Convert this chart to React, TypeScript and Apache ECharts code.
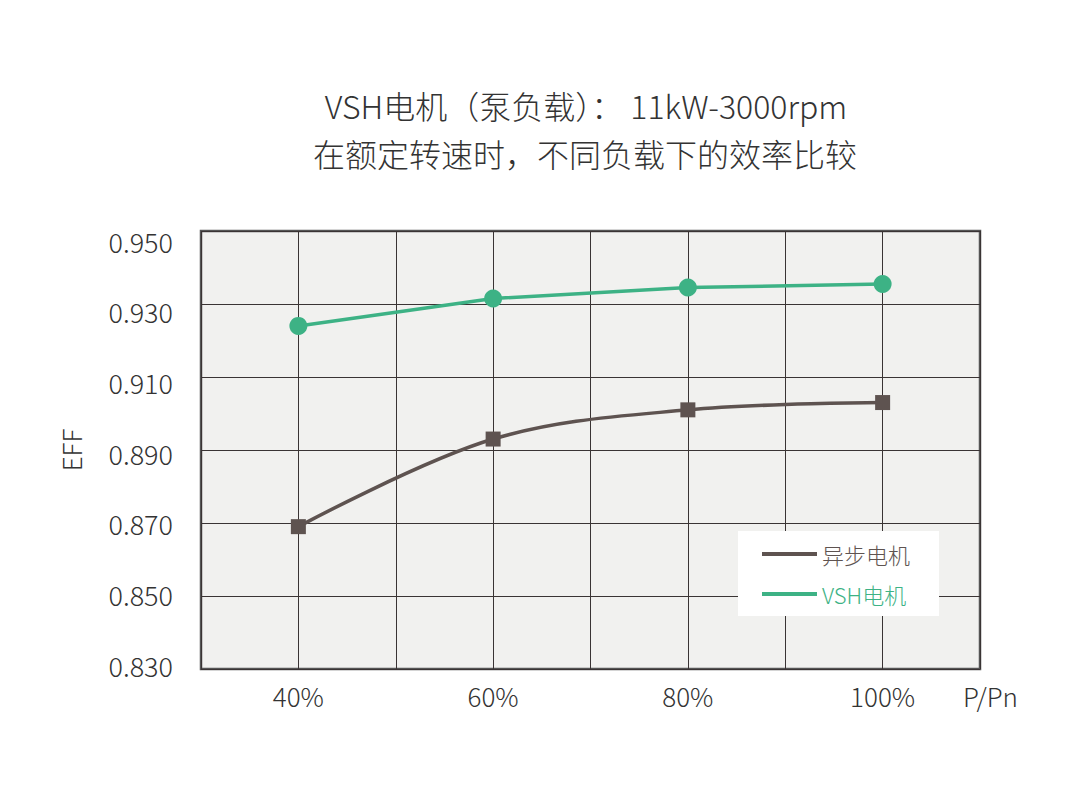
import React, { useEffect, useRef } from "react";
import * as echarts from "echarts";

const loadPercent = [40, 60, 80, 100];
const asyncEff = [0.869, 0.893, 0.901, 0.903];
const vshEff = [0.924, 0.9315, 0.9345, 0.9355];
const xTickLabels = [40, 60, 80, 100];
const seriesNames = ["异步电机", "VSH电机"];
const titleLines = ["VSH电机（泵负载）： 11kW-3000rpm", "在额定转速时，不同负载下的效率比较"];

const BROWN = "#5e5350";
const GREEN = "#3db285";
const FONT = "'Noto Sans CJK SC', 'Noto Sans', sans-serif";

export default function App() {
  const ref = useRef<HTMLDivElement>(null);
  useEffect(() => {
    if (!ref.current) return;
    const chart = echarts.init(ref.current, null, { renderer: "svg" });
    const titleStyle = { fontSize: 32, fontWeight: 300, color: "#333", lineHeight: 47, fontFamily: FONT };
    const option = {
      animation: false,
      backgroundColor: "#fff",
      textStyle: { fontFamily: FONT },
      title: [
        { text: titleLines[0], left: 586, top: 81, padding: 0, textAlign: "center", textStyle: titleStyle },
        { text: titleLines[1], left: 585, top: 129, padding: 0, textAlign: "center", textStyle: titleStyle },
      ],
      legend: {
        orient: "vertical",
        left: 738,
        top: 531,
        backgroundColor: "#ffffff",
        padding: [12, 29, 11, 24],
        itemWidth: 55,
        itemHeight: 4,
        itemGap: 18,
        icon: "rect",
        data: [
          { name: seriesNames[0], textStyle: { color: BROWN, fontSize: 22, fontWeight: 300 } },
          { name: seriesNames[1], textStyle: { color: GREEN, fontSize: 22, fontWeight: 300 } },
        ],
        textStyle: { fontFamily: FONT, fontSize: 22 },
      },
      grid: [
        { left: 201, right: 93, top: 231, bottom: 124, show: true, backgroundColor: "#f1f1ef", borderColor: "#555", borderWidth: 2.5 },
        { left: 201, right: 93, top: 241, bottom: 128 },
      ],
      xAxis: [
        {
          type: "value",
          gridIndex: 0,
          min: 30,
          max: 110,
          interval: 10,
          axisLine: { show: false },
          axisTick: { show: false },
          axisLabel: {
            margin: 13,
            fontSize: 26,
            color: "#333",
            fontFamily: FONT,
            fontWeight: 300,
            formatter: (v: number) => (xTickLabels.includes(v) ? v + "%" : ""),
          },
          splitLine: { show: true, lineStyle: { color: "#3a3434", width: 1 } },
        },
        { type: "value", gridIndex: 1, min: 30, max: 110, show: false },
      ],
      yAxis: [
        {
          type: "value",
          gridIndex: 0,
          min: 0.83,
          max: 0.95,
          interval: 0.02,
          name: "EFF",
          nameLocation: "middle",
          nameGap: 118,
          nameTextStyle: { fontSize: 26, color: "#333", fontFamily: FONT, fontWeight: 300 },
          axisLine: { show: false },
          axisTick: { show: false },
          axisLabel: { show: false },
          splitLine: { show: true, lineStyle: { color: "#3a3434", width: 1 } },
        },
        {
          type: "value",
          gridIndex: 1,
          min: 0.83,
          max: 0.95,
          interval: 0.02,
          axisLine: { show: false },
          axisTick: { show: false },
          splitLine: { show: false },
          axisLabel: {
            margin: 28,
            fontSize: 27,
            color: "#333",
            fontFamily: FONT,
            fontWeight: 300,
            formatter: (v: number) => v.toFixed(3),
          },
        },
      ],
      graphic: [
        {
          type: "text",
          left: 963,
          top: 682,
          style: { text: "P/Pn", fontSize: 26, fill: "#333", fontFamily: FONT, fontWeight: 300 },
        },
      ],
      series: [
        {
          name: seriesNames[0],
          type: "line",
          xAxisIndex: 0,
          yAxisIndex: 0,
          smooth: 0.35,
          data: loadPercent.map((x, i) => [x, asyncEff[i]]),
          symbol: "rect",
          symbolSize: 15,
          itemStyle: { color: BROWN },
          lineStyle: { color: BROWN, width: 3.5 },
        },
        {
          name: seriesNames[1],
          type: "line",
          xAxisIndex: 0,
          yAxisIndex: 0,
          data: loadPercent.map((x, i) => [x, vshEff[i]]),
          symbol: "circle",
          symbolSize: 18,
          itemStyle: { color: GREEN },
          lineStyle: { color: GREEN, width: 3.5 },
        },
      ],
    };
    chart.setOption(option as any);
    return () => chart.dispose();
  }, []);
  return <div ref={ref} style={{ width: 1073, height: 793, position: "absolute", left: 0, top: 0 }} />;
}
